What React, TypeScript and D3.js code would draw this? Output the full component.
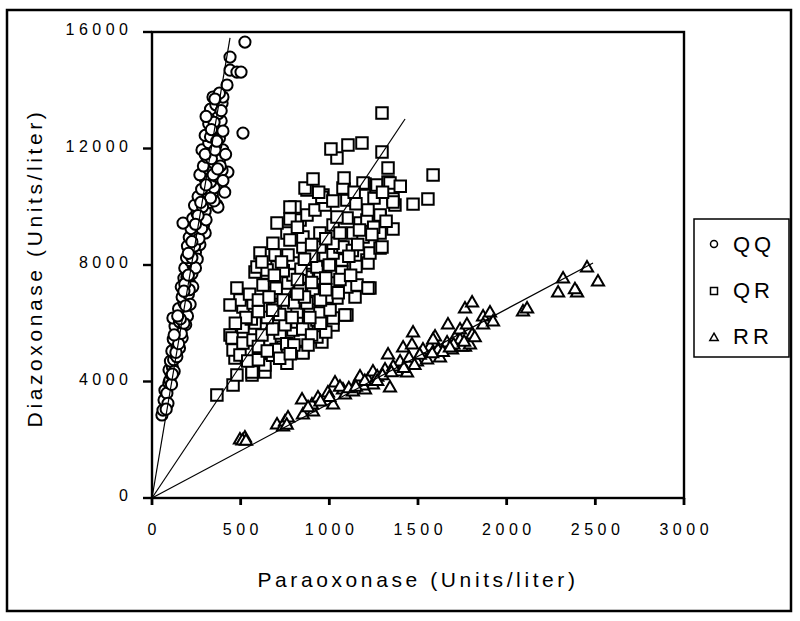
import * as d3 from 'd3';

// Paraoxonase (x) vs Diazoxonase (y), Units/liter, by genotype
const qqPoints: [number, number][] = [
  [56, 2850], [62, 3020], [68, 3364], [73, 3700], [84, 3600], [95, 3950], [101, 4050], [108, 4250],
  [96, 4400], [115, 4500], [104, 4700], [122, 4750], [128, 4950], [112, 5050], [141, 5180], [135, 5350],
  [120, 5450], [150, 5500], [145, 5650], [160, 5750], [169, 5870], [130, 5900], [118, 6180], [155, 6050],
  [175, 6200], [165, 6350], [185, 6450], [150, 6500], [197, 6800], [180, 6700], [170, 6900], [205, 7000],
  [190, 7150], [165, 7250], [215, 7350], [200, 7450], [180, 7550], [197, 7590], [225, 7700], [210, 7800],
  [185, 7900], [231, 8000], [215, 8150], [195, 8250], [231, 8340], [245, 8450], [220, 8550], [200, 8650],
  [250, 8750], [235, 8850], [210, 8950], [260, 9050], [240, 9150], [220, 9250], [175, 9440], [265, 9350],
  [250, 9500], [230, 9600], [280, 9650], [254, 9780], [300, 9850], [270, 9950], [366, 10060], [372, 9990],
  [240, 10050], [320, 10150], [290, 10250], [260, 10350], [340, 10400], [310, 10500], [383, 10745], [280, 10600],
  [350, 10650], [330, 10850], [300, 10950], [428, 11190], [360, 11050], [270, 11100], [395, 11250], [320, 11300],
  [290, 11400], [350, 11500], [380, 11600], [310, 11700], [340, 11850], [282, 11950], [400, 11950], [360, 12100],
  [320, 12200], [380, 12350], [300, 12450], [340, 12550], [513, 12530], [360, 12700], [320, 12850], [390, 12950],
  [345, 13050], [375, 13200], [330, 13350], [360, 13500], [395, 13550], [344, 13767], [400, 13767], [380, 13900],
  [423, 14180], [440, 14690], [479, 14625], [502, 14625], [440, 15140], [524, 15655],
  [410, 10500], [400, 10900], [385, 11400], [350, 10200], [290, 9350], [300, 9100], [270, 8700], [255, 8200],
  [245, 7900], [230, 7250], [215, 6650], [200, 6250], [190, 5950], [170, 5500], [155, 5150], [140, 4850],
  [125, 4350], [110, 3900], [90, 3250], [80, 3050],
  [135, 5000], [150, 5300], [165, 5650], [180, 6000], [160, 6150], [190, 6600], [210, 7150], [185, 7350],
  [205, 7650], [225, 8250], [240, 8650], [265, 8900], [280, 9250], [305, 9550], [285, 10000], [330, 10300],
  [305, 10750], [345, 11100], [370, 11300], [335, 11650], [300, 11800], [355, 11950], [330, 12400], [365, 12250],
  [350, 12900], [305, 13100], [390, 13300], [355, 13700], [335, 12650], [400, 12600], [415, 11800], [260, 9700],
  [245, 9400], [275, 10150], [225, 8800], [205, 8400], [180, 7100], [145, 6250], [125, 5600], [115, 4250],
];

const qrPoints: [number, number][] = [
  [366, 3535], [457, 3880], [479, 4220], [564, 4220], [637, 4325], [564, 4325], [761, 4630], [637, 4565],
  [851, 5010], [851, 4980], [958, 5355], [930, 5530], [1021, 5940], [1021, 6180], [1099, 6280], [1088, 6280],
  [440, 5600], [451, 5490], [468, 4805], [457, 5080], [496, 4910], [609, 4980], [513, 5320], [570, 5425],
  [665, 5425], [739, 5180], [835, 5425], [722, 5665], [795, 5770], [874, 6010], [818, 6040], [930, 6110],
  [513, 5870], [581, 6010], [553, 6350], [626, 6520], [705, 6560], [761, 6520], [818, 6385], [891, 6455],
  [947, 6350], [1004, 6455], [513, 6560], [496, 6800], [570, 6695], [440, 6625], [874, 6695], [1043, 6870],
  [987, 6900], [1145, 6900], [908, 7140], [835, 7140], [750, 7040], [677, 7040], [626, 7310], [479, 7210],
  [722, 7480], [767, 7380], [1004, 7380], [1099, 7245], [1156, 7310], [1229, 7210], [1218, 7210], [795, 7655],
  [874, 7590], [947, 7725], [649, 7725], [581, 7760], [705, 7930], [592, 7930], [649, 7830], [795, 8070],
  [891, 8070], [930, 7930], [1071, 7760], [1071, 8170], [992, 8170], [1212, 8170], [1218, 8070], [609, 8410],
  [694, 8340], [767, 8340], [851, 8620], [976, 8340], [1021, 8410], [1060, 8620], [682, 8750], [947, 8620],
  [1077, 8620], [1021, 8750], [1229, 8410], [1286, 8580], [1297, 8620], [761, 9100], [778, 8860], [851, 8960],
  [947, 9100], [1133, 9100], [1190, 8960], [1286, 9100], [705, 9440], [835, 9545], [1021, 9370], [1173, 9440],
  [1100, 9610], [1043, 9650], [1212, 9545], [1286, 9650], [1359, 9235], [778, 9580], [874, 9715], [1286, 9715],
  [1218, 9890], [806, 9990], [778, 9990], [919, 9890], [976, 10060], [1099, 10230], [1252, 10300], [1370, 10060],
  [1359, 10265], [1359, 10160], [1472, 10090], [1556, 10265], [874, 10575], [964, 10400], [958, 10330], [1083, 10610],
  [1077, 10640], [863, 10640], [908, 10950], [1083, 10985], [1201, 10780], [1263, 10680], [1190, 10815], [1269, 10745],
  [1331, 10850], [1342, 10815], [1331, 11330], [1585, 11090], [1043, 11670], [1009, 11980], [1105, 12120], [1184, 12190],
  [1297, 11880], [1297, 13220],
  [540, 4700], [600, 4750], [680, 4900], [700, 5100], [760, 5300], [800, 5250], [620, 5600], [680, 5800],
  [750, 5950], [850, 5800], [900, 5600], [560, 6150], [650, 6200], [720, 6300], [800, 6700], [860, 6900],
  [950, 6800], [1050, 7050], [700, 7200], [550, 7000], [900, 7400], [840, 7850], [740, 7800], [1000, 8000],
  [1130, 8500], [900, 8300], [1150, 7950], [1170, 9200], [1250, 9300],
  [600, 5200], [650, 5050], [720, 4800], [780, 4950], [880, 5250], [980, 5700], [950, 6000], [890, 6200],
  [790, 6200], [680, 6450], [600, 6400], [530, 6200], [470, 6000], [600, 6800], [660, 6900], [740, 6800],
  [820, 7000], [980, 7150], [1060, 7500], [1120, 7650], [980, 7550], [820, 7500], [690, 7650], [620, 8100],
  [730, 8100], [860, 8200], [1110, 8300], [1160, 8700], [980, 8900], [900, 8700], [820, 9300], [1060, 9100],
  [1240, 9050], [1320, 9500], [1150, 10100], [1020, 10200], [940, 10500], [1300, 10500], [1400, 10700], [1140, 10500],
];

const rrPoints: [number, number][] = [
  [496, 1990], [524, 2060], [510, 1960], [530, 1950], [705, 2505], [739, 2440], [750, 2610], [767, 2750],
  [760, 2500], [846, 3365], [851, 2850], [908, 2950], [902, 3190], [936, 3430], [880, 3100], [992, 3605],
  [1021, 3190], [1032, 3950], [1000, 3450], [1077, 3710], [1088, 3535], [1060, 3800], [1133, 3640], [1156, 3950],
  [1110, 3750], [1201, 3710], [1173, 4155], [1218, 4050], [1246, 3880], [1190, 3850], [1246, 4325], [1342, 3775],
  [1314, 4395], [1270, 4150], [1300, 4200], [1331, 4910], [1382, 4325], [1399, 4670], [1360, 4500], [1416, 5150],
  [1472, 5665], [1466, 5250], [1494, 4670], [1438, 4290], [1450, 4800], [1551, 4740], [1568, 5180], [1596, 5530],
  [1528, 5080], [1510, 4900], [1624, 4805], [1613, 5080], [1585, 5425], [1664, 5320], [1692, 5080], [1669, 5940],
  [1709, 5490], [1737, 5425], [1737, 5770], [1765, 5180], [1748, 5180], [1793, 5250], [1805, 5600], [1776, 5940],
  [1765, 6490], [1805, 6695], [1867, 6215], [1867, 5940], [1906, 6350], [1923, 6040], [2092, 6385], [2115, 6490],
  [2290, 7040], [2318, 7520], [2397, 7040], [2385, 7150], [2453, 7895], [2515, 7415], [1640, 5000], [1700, 5250],
  [1580, 4950], [1480, 4550], [1420, 4450], [1350, 4300], [1200, 4000], [1150, 3800], [950, 3300], [1270, 4000],
  [1680, 5150], [1820, 5500], [1760, 5350],
];

// regression lines through the origin: [slope, last x]
const fitLines: [number, number][] = [
  [35.9, 440],
  [9.12, 1427],
  [3.245, 2487],
];

const xTicks = [0, 500, 1000, 1500, 2000, 2500, 3000];
const yTicks = [0, 4000, 8000, 12000, 16000];
const legendLabels = ['QQ', 'QR', 'RR'];

const FONT = "Arial, 'Liberation Sans', sans-serif";

const margin = { left: 152, top: 32, right: 684, bottom: 498 };

const App = () => {
  const x = d3.scaleLinear().domain([0, 3000]).range([margin.left, margin.right]);
  const y = d3.scaleLinear().domain([0, 16000]).range([margin.bottom, margin.top]);

  const squarePath = d3.symbol().type(d3.symbolSquare).size(132)()!;
  const trianglePath = d3.symbol().type(d3.symbolTriangle).size(64)()!;
  const legendSquare = d3.symbol().type(d3.symbolSquare).size(49)()!;
  const legendTriangle = d3.symbol().type(d3.symbolTriangle).size(30)()!;

  const line = d3.line<[number, number]>().x(d => x(d[0])).y(d => y(d[1]));

  const markStyle = { fill: '#fff', stroke: '#000', strokeWidth: 2 };
  const ls = 4.5;

  return (
    <svg width={800} height={621} style={{ position: 'absolute', left: 0, top: 0, background: '#fff' }}>
      <rect x={7} y={10} width={784} height={601} fill="#fff" stroke="#000" strokeWidth={2.5} />

      {/* points */}
      <g>
        {qqPoints.map((d, i) => (
          <circle key={'qq' + i} cx={x(d[0])} cy={y(d[1])} r={5.6} {...markStyle} />
        ))}
      </g>
      <g>
        {qrPoints.map((d, i) => (
          <path key={'qr' + i} d={squarePath} transform={`translate(${x(d[0])},${y(d[1])})`} {...markStyle} />
        ))}
      </g>
      <g>
        {rrPoints.map((d, i) => (
          <path key={'rr' + i} d={trianglePath} transform={`translate(${x(d[0])},${y(d[1])})`} {...markStyle} />
        ))}
      </g>

      {/* fit lines */}
      {fitLines.map(([slope, xEnd], i) => (
        <path key={'fit' + i} d={line([[0, 0], [xEnd, slope * xEnd]])!} fill="none" stroke="#000" strokeWidth={1.2} />
      ))}

      {/* plot frame */}
      <rect x={margin.left} y={margin.top} width={margin.right - margin.left} height={margin.bottom - margin.top}
        fill="none" stroke="#000" strokeWidth={2.4} />

      {/* y axis */}
      {yTicks.map(t => (
        <g key={'yt' + t}>
          <line x1={143} x2={margin.left} y1={y(t)} y2={y(t)} stroke="#000" strokeWidth={2.4} />
          <text x={132.5} y={y(t) + 3} textAnchor="end" fontFamily={FONT} fontSize={16} letterSpacing={ls}>{t}</text>
        </g>
      ))}

      {/* x axis */}
      {xTicks.map(t => (
        <g key={'xt' + t}>
          <line x1={x(t)} x2={x(t)} y1={margin.bottom} y2={505} stroke="#000" strokeWidth={2.8} />
          <text x={x(t) + ls / 2} y={535} textAnchor="middle" fontFamily={FONT} fontSize={16} letterSpacing={ls}>{t}</text>
        </g>
      ))}

      <text x={418} y={587} textAnchor="middle" fontFamily={FONT} fontSize={21} letterSpacing={3.6}>
        Paraoxonase (Units/liter)
      </text>
      <text transform="translate(42,268) rotate(-90)" textAnchor="middle" fontFamily={FONT} fontSize={21} letterSpacing={3.6}>
        Diazoxonase (Units/liter)
      </text>

      {/* legend */}
      <rect x={694} y={219} width={95} height={138} fill="#fff" stroke="#000" strokeWidth={1.5} />
      {legendLabels.map((label, i) => {
        const cy = 244 + i * 46;
        return (
          <g key={label}>
            {i === 0 && <circle cx={714} cy={cy} r={3.5} fill="#fff" stroke="#000" strokeWidth={1.5} />}
            {i === 1 && <path d={legendSquare} transform={`translate(714,${cy + 1})`} fill="#fff" stroke="#000" strokeWidth={1.5} />}
            {i === 2 && <path d={legendTriangle} transform={`translate(714,${cy + 2})`} fill="#fff" stroke="#000" strokeWidth={1.5} />}
            <text x={733} y={cy + 8} fontFamily={FONT} fontSize={22} letterSpacing={4}>{label}</text>
          </g>
        );
      })}
    </svg>
  );
};

export default App;
